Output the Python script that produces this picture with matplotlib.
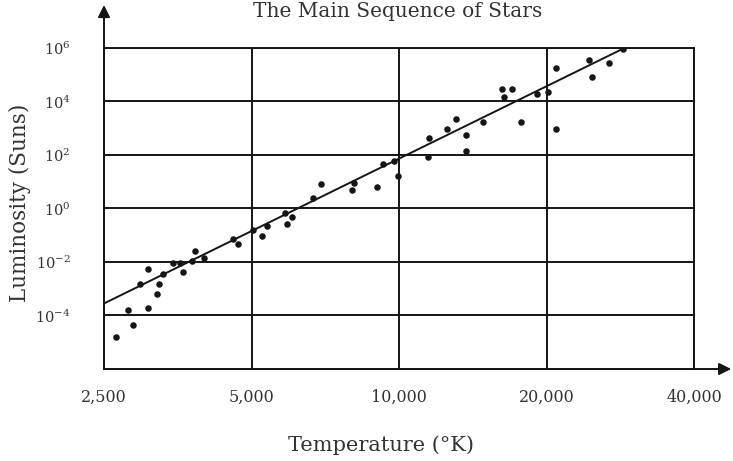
import numpy as np
import matplotlib
matplotlib.use("Agg")
import matplotlib.pyplot as plt

# values
temperature_k = [2645, 2798, 2869, 3079, 2960, 3079, 3202, 3242, 3303, 3462,
                 3573, 3619, 3835, 3775, 4000, 4591, 4693, 5028, 5260, 5378,
                 5853, 6041, 5900, 6667, 6932, 8031, 8106, 9031, 9290, 9745,
                 9967, 11445, 11530, 12513, 13052, 13703, 13703, 14860, 16205, 16380,
                 17033, 17715, 19157, 20170, 20913, 20913, 24424, 24730, 26830, 28700]
log_luminosity = [-4.79, -3.79, -4.36, -3.71, -2.82, -2.26, -3.20, -2.82, -2.45, -2.05,
                  -2.05, -2.36, -1.58, -1.95, -1.86, -1.15, -1.33, -0.79, -1.02, -0.67,
                  -0.18, -0.31, -0.58, 0.38, 0.90, 0.69, 0.97, 0.81, 1.66, 1.79,
                  1.23, 1.91, 2.65, 2.96, 3.33, 2.75, 2.15, 3.24, 4.46, 4.16,
                  4.46, 3.24, 4.27, 4.37, 5.24, 2.96, 5.55, 4.93, 5.45, 5.96]

# fitted main-sequence line (end points)
fit_temperature = [2500, 28700]
fit_log_luminosity = [-3.55, 5.98]

x_ticks = [2500, 5000, 10000, 20000, 40000]
x_labels = ["2,500", "5,000", "10,000", "20,000", "40,000"]
y_exponents = [-4, -2, 0, 2, 4, 6]

plt.rcParams["font.family"] = "DejaVu Serif"
plt.rcParams["mathtext.fontset"] = "dejavuserif"

fig = plt.figure(figsize=(7.33, 4.61), dpi=100)
ax = fig.add_axes([104 / 733, 1 - 369 / 461, 590 / 733, 321 / 461])

ax.set_xscale("log", base=2)
ax.set_yscale("log")
ax.set_xlim(2500, 40000)
ax.set_ylim(1e-6, 1e6)

lum = 10.0 ** np.array(log_luminosity)
ax.scatter(temperature_k, lum, s=22, color="#151515", zorder=3, linewidths=0)
ax.plot(fit_temperature, 10.0 ** np.array(fit_log_luminosity),
        color="#151515", lw=1.4, zorder=2)

ax.set_xticks(x_ticks)
ax.set_xticklabels(x_labels)
ax.xaxis.set_minor_locator(matplotlib.ticker.NullLocator())
ax.set_yticks([10.0 ** e for e in y_exponents])
ax.set_yticklabels([f"$10^{{{e}}}$" for e in y_exponents])
ax.yaxis.set_minor_locator(matplotlib.ticker.NullLocator())
ax.tick_params(axis="x", length=0, pad=14, labelsize=11.5, colors="#333333")
ax.tick_params(axis="y", length=0, pad=24, labelsize=10.5, colors="#333333")

ax.grid(True, which="major", color="#151515", lw=1.4)
for s in ax.spines.values():
    s.set_color("#151515")
    s.set_linewidth(1.4)

# axis arrows
arrow = dict(arrowstyle="-|>", color="#151515", lw=1.4, mutation_scale=18,
             shrinkA=0, shrinkB=0)
ax.annotate("", xy=(0, 1.134), xytext=(0, 0), xycoords="axes fraction",
            arrowprops=arrow, annotation_clip=False)
ax.annotate("", xy=(1.063, 0), xytext=(0, 0), xycoords="axes fraction",
            arrowprops=arrow, annotation_clip=False)

fig.text(381 / 733, 1 - 445 / 461, "Temperature (°K)", ha="center", va="center",
         fontsize=15, color="#333333")
fig.text(20 / 733, 1 - 203 / 461, "Luminosity (Suns)", ha="center", va="center",
         rotation=90, fontsize=15.5, color="#333333")
fig.text(398 / 733, 1 - 17 / 461, "The Main Sequence of Stars", ha="center",
         va="baseline", fontsize=14.5, color="#333333")

fig.savefig("out.png", dpi=100)
